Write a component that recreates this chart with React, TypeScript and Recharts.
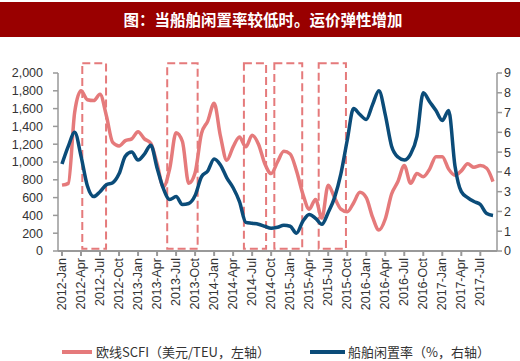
import React from 'react';
import { LineChart, Line, XAxis, YAxis, ReferenceArea, Legend } from 'recharts';

const YEARS = [2012, 2013, 2014, 2015, 2016, 2017];
const MONTH_ABBR = ['Jan', 'Feb', 'Mar', 'Apr', 'May', 'Jun', 'Jul', 'Aug', 'Sep', 'Oct', 'Nov', 'Dec'];
const months = YEARS.flatMap((y) => MONTH_ABBR.map((m) => `${y}-${m}`)).slice(0, 69);

// 欧线SCFI（美元/TEU），月度
const scfi = [
  740, 760, 1560, 1800, 1700, 1690, 1760, 1520, 1220, 1180, 1240, 1260,
  1340, 1260, 1210, 980, 720, 930, 1330, 1230, 760, 880, 1320, 1460,
  1660, 1290, 1020, 1170, 1280, 1170, 1300, 1200, 980, 870, 1000, 1120,
  1090, 900, 640, 470, 580, 370, 740, 600, 470, 440, 540, 660,
  600, 380, 235, 360, 640, 780, 960, 760, 870, 835, 920, 1060,
  1060, 920, 850, 900, 980, 940, 960, 930, 780,
];

// 船舶闲置率（%）
const idle = [
  4.4, 5.3, 6.0, 4.8, 3.3, 2.75, 3.0, 3.35, 3.45, 3.9, 4.8, 5.0,
  4.6, 4.9, 5.35, 4.2, 3.15, 2.6, 2.75, 2.35, 2.4, 2.8, 3.75, 4.05,
  4.65, 4.35, 3.7, 3.2, 2.5, 1.45, 1.4, 1.35, 1.25, 1.15, 1.2, 1.3,
  1.25, 0.9, 1.5, 1.85, 1.65, 1.35, 1.95, 2.7, 3.9, 5.6, 7.2, 6.9,
  6.65, 7.4, 8.1, 6.9, 5.3, 4.75, 4.6, 4.9, 5.8, 8.0, 7.55, 7.1,
  6.6, 7.1, 4.3, 3.0, 2.7, 2.5, 2.35, 1.9, 1.8,
];

// 虚线框标注的时段（月序号，0 = 2012-Jan）
const highlightStart = [3.2, 16.6, 28.7, 33.5, 40.5];
const highlightEnd = [6.95, 21.4, 32.2, 37.9, 44.8];

const xTicks = [0, 3, 6, 9, 12, 15, 18, 21, 24, 27, 30, 33, 36, 39, 42, 45, 48, 51, 54, 57, 60, 63, 66];
const leftTicks = [0, 200, 400, 600, 800, 1000, 1200, 1400, 1600, 1800, 2000];
const rightTicks = [0, 1, 2, 3, 4, 5, 6, 7, 8, 9];

const PINK = '#E57A7B';
const BLUE = '#0B4C79';
const AXIS = '#999999';
const FONT = 'Liberation Sans, Arial, sans-serif';
const CJK = '"Noto Sans CJK SC", sans-serif';

const data = months.map((m, i) => ({ idx: i, month: m, scfi: scfi[i], idle: idle[i] }));

const MonthTick = ({ x, y, payload }: any) => (
  <text
    x={x}
    y={y}
    transform={`rotate(-90, ${x}, ${y})`}
    textAnchor="end"
    dominantBaseline="central"
    style={{ fontSize: 12.5, fontFamily: FONT }}
    fill="#333"
  >
    {months[payload.value]}
  </text>
);

const LegendContent = () => (
  <div style={{ position: 'relative', width: 520, height: 30, fontFamily: CJK, fontSize: 13, color: '#333' }}>
    <div style={{ position: 'absolute', left: 62, top: 19, width: 30, height: 4, background: PINK }} />
    <span style={{ position: 'absolute', left: 96, top: 11, lineHeight: '20px', whiteSpace: 'nowrap' }}>
      欧线SCFI（美元/TEU，左轴）
    </span>
    <div style={{ position: 'absolute', left: 310, top: 19, width: 35, height: 4, background: BLUE }} />
    <span style={{ position: 'absolute', left: 348, top: 11, lineHeight: '20px', whiteSpace: 'nowrap' }}>
      船舶闲置率（%，右轴）
    </span>
  </div>
);

export default function App() {
  return (
    <div style={{ position: 'absolute', left: 0, top: 0, width: 520, height: 361, background: '#fff', fontFamily: FONT }}>
      <div
        style={{
          position: 'absolute',
          left: 0,
          top: 2,
          width: 520,
          height: 35,
          background: '#990000',
          color: '#fff',
          fontFamily: CJK,
          fontWeight: 700,
          fontSize: 15.5,
          lineHeight: '35px',
          textAlign: 'center',
          paddingLeft: 6,
          boxSizing: 'border-box',
        }}
      >
        图：当船舶闲置率较低时。运价弹性增加
      </div>
      <div style={{ position: 'absolute', left: 0, top: 0 }}>
        <LineChart width={520} height={361} data={data} margin={{ top: 73, right: 0, bottom: 0, left: 0 }}>
          <XAxis
            dataKey="idx"
            type="number"
            domain={[0, 68]}
            ticks={xTicks}
            interval={0}
            padding={{ left: 4, right: 4 }}
            height={80}
            tick={<MonthTick />}
            tickSize={5}
            tickMargin={2}
            stroke={AXIS}
            strokeWidth={2}
          />
          <YAxis
            yAxisId="left"
            domain={[0, 2000]}
            ticks={leftTicks}
            interval={0}
            width={58}
            tickSize={5}
            tickMargin={10}
            tickFormatter={(v) => v.toLocaleString('en-US')}
            tick={{ fontSize: 12.5, fill: '#333', fontFamily: FONT }}
            stroke={AXIS}
            strokeWidth={1.5}
          />
          <YAxis
            yAxisId="right"
            orientation="right"
            domain={[0, 9]}
            ticks={rightTicks}
            interval={0}
            width={23}
            tickSize={5}
            tickMargin={2}
            tick={{ fontSize: 12.5, fill: '#333', fontFamily: FONT }}
            stroke={AXIS}
            strokeWidth={1.5}
          />
          <Legend
            verticalAlign="bottom"
            content={<LegendContent />}
            wrapperStyle={{ width: 520, height: 30, left: 0, bottom: 0 }}
          />
          <Line
            yAxisId="left"
            type="monotone"
            dataKey="scfi"
            name="欧线SCFI（美元/TEU，左轴）"
            stroke={PINK}
            strokeWidth={3.5}
            dot={false}
            isAnimationActive={false}
          />
          <Line
            yAxisId="right"
            type="monotone"
            dataKey="idle"
            name="船舶闲置率（%，右轴）"
            stroke={BLUE}
            strokeWidth={3.5}
            dot={false}
            isAnimationActive={false}
          />
          {highlightStart.map((s, i) => (
            <ReferenceArea
              key={i}
              yAxisId="left"
              x1={s}
              x2={highlightEnd[i]}
              y1={25}
              y2={2110}
              ifOverflow="visible"
              fill="none"
              stroke={PINK}
              strokeWidth={2}
              strokeDasharray="8 4"
            />
          ))}
        </LineChart>
      </div>
    </div>
  );
}
